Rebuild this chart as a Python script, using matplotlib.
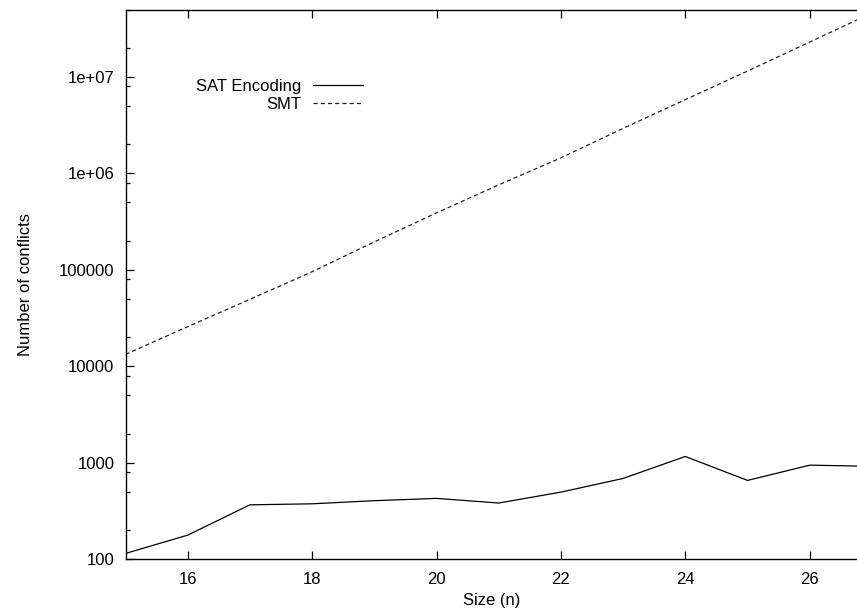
import matplotlib
matplotlib.use("Agg")
import matplotlib.pyplot as plt
from matplotlib.ticker import LogLocator, NullFormatter, FixedLocator

sizes = [15, 16, 17, 18, 19, 20, 21, 22, 23, 24, 25, 26, 27]
sat_conflicts = [115, 178, 367, 376, 405, 428, 383, 497, 689, 1164, 657, 946, 920]
smt_conflicts = [13300, 25800, 49500, 95700, 195000, 390000, 760000, 1450000,
                 2930000, 5820000, 11500000, 23000000, 46000000]
x_ticks = [16, 18, 20, 22, 24, 26]
y_ticks = [100, 1000, 10000, 100000, 1000000, 10000000]
y_tick_labels = ["100", "1000", "10000", "100000", "1e+06", "1e+07"]

plt.rcParams["font.family"] = ["Liberation Sans", "DejaVu Sans"]
plt.rcParams["font.size"] = 12
plt.rcParams["lines.scale_dashes"] = False

fig = plt.figure(figsize=(8.57, 6.11), dpi=100)
ax = fig.add_axes([125.5 / 857, 1 - 559.3 / 611, 1 - 125.5 / 857, (559.3 - 9.5) / 611])

ax.plot(sizes, sat_conflicts, color="black", lw=0.9, label="SAT Encoding")
ax.plot(sizes, smt_conflicts, color="#222222", lw=0.9, dashes=(3.0, 2.2), label="SMT")

ax.set_yscale("log")
ax.set_xlim(15, 26.76)
ax.set_ylim(100, 5e7)

ax.xaxis.set_major_locator(FixedLocator(x_ticks))
ax.set_yticks(y_ticks)
ax.set_yticklabels(y_tick_labels)
ax.yaxis.set_minor_locator(LogLocator(base=10, subs=[2, 5, 8], numticks=20))
ax.yaxis.set_minor_formatter(NullFormatter())

ax.tick_params(which="major", direction="in", length=6, width=0.9, top=True, right=False, pad=8)
ax.tick_params(which="minor", direction="in", length=3, width=0.9, right=False)
ax.tick_params(axis="x", pad=9)
ax.spines["right"].set_visible(False)
for s in ["left", "top", "bottom"]:
    ax.spines[s].set_linewidth(1.0)

ax.set_xlabel("Size (n)", labelpad=4.5)
ax.set_ylabel("Number of conflicts", labelpad=19)

ax.legend(loc="upper right", bbox_to_anchor=(0.334, 0.886), frameon=False,
          markerfirst=False, handlelength=3.0, handletextpad=0.72, labelspacing=0.2,
          borderaxespad=0)

fig.savefig("out.png", dpi=100)
